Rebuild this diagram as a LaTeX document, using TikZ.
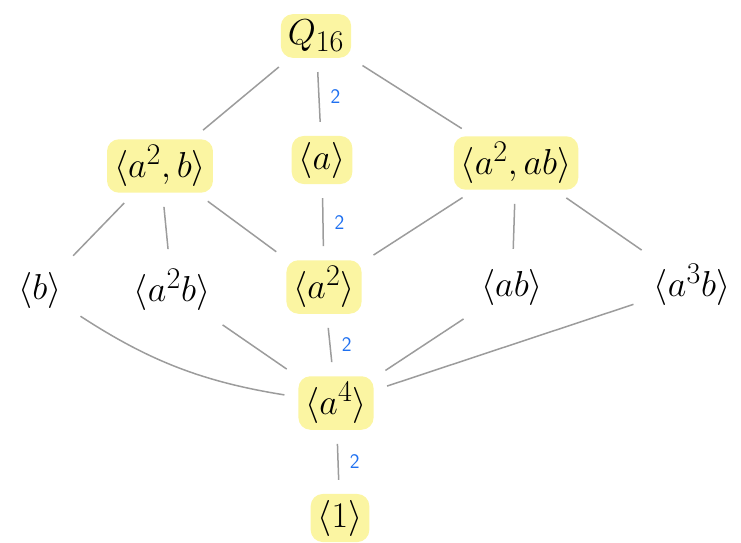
\documentclass[tikz,border=0pt]{standalone}
\usepackage{amsmath}
\definecolor{hl}{HTML}{FBF5A2}
\definecolor{edgegray}{HTML}{9C9C9C}
\definecolor{lblue}{HTML}{1F70F0}
\newcommand{\gtxt}[1]{\scalebox{1.45}{$#1$}}
\begin{document}
\begin{tikzpicture}[x=1pt,y=-1pt,
  grp/.style={font=\Huge, inner xsep=7pt, inner ysep=6pt, rounded corners=12pt},
  hlgrp/.style={grp, fill=hl},
  conn/.style={draw=edgegray, line width=1.5pt, shorten <=14pt, shorten >=14pt},
  idx/.style={text=lblue, font=\huge\sffamily, inner sep=2pt}]
\useasboundingbox (0,0) rectangle (741,543);

\node[hlgrp] (Q) at (316,36) {\gtxt{Q_{16}}};
\node[hlgrp] (A2B) at (160,166) {\gtxt{\langle a^2, b\rangle}};
\node[hlgrp] (A) at (322,160) {\gtxt{\langle a\rangle}};
\node[hlgrp] (A2AB) at (516,163) {\gtxt{\langle a^2, ab\rangle}};
\node[grp] (B) at (40,290) {\gtxt{\langle b\rangle}};
\node[grp] (A2b) at (172,290) {\gtxt{\langle a^2b\rangle}};
\node[hlgrp] (A2) at (324,287) {\gtxt{\langle a^2\rangle}};
\node[grp] (AB) at (512,287) {\gtxt{\langle ab\rangle}};
\node[grp] (A3B) at (692,285) {\gtxt{\langle a^3b\rangle}};
\node[hlgrp] (A4) at (336,403) {\gtxt{\langle a^4\rangle}};
\node[hlgrp] (One) at (340,518) {\gtxt{\langle 1\rangle}};

\draw[conn] (Q) -- (A2B);
\draw[conn] (Q) -- node[idx, right=9pt] {2} (A);
\draw[conn] (Q) -- (A2AB);
\draw[conn] (A2B) -- (B);
\draw[conn] (A2B) -- (A2b);
\draw[conn] (A2B) -- (A2);
\draw[conn] (A) -- node[idx, right=9pt] {2} (A2);
\draw[conn] (A2AB) -- (A2);
\draw[conn] (A2AB) -- (AB);
\draw[conn] (A2AB) -- (A3B);
\draw[conn] (B) to[bend right=12] (A4);
\draw[conn] (A2b) -- (A4);
\draw[conn] (A2) -- node[idx, right=9pt] {2} (A4);
\draw[conn] (AB) -- (A4);
\draw[conn] (A3B) -- (A4);
\draw[conn] (A4) -- node[idx, right=9pt] {2} (One);
\end{tikzpicture}
\end{document}
